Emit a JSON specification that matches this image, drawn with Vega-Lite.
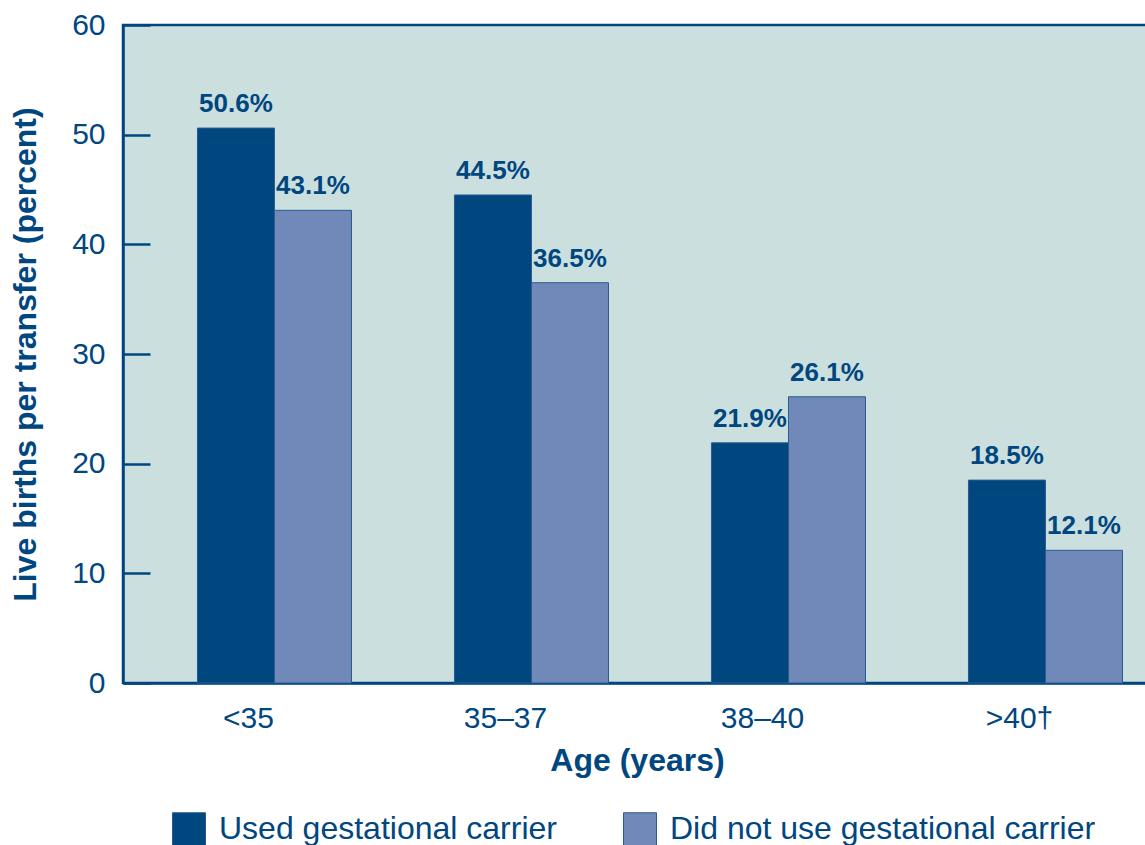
{
  "$schema": "https://vega.github.io/schema/vega-lite/v6.json",
  "width": 1028,
  "height": 658,
  "padding": {"left": 9, "top": 10, "right": 0, "bottom": 0},
  "background": "white",
  "config": {
    "font": "Liberation Sans",
    "view": {"fill": "#cbdfdf", "stroke": "#00467f", "strokeWidth": 2.5}
  },
  "data": {
    "values": [
      {"age": "<35", "group": "Used gestational carrier", "pct": 50.6, "label": "50.6%"},
      {"age": "<35", "group": "Did not use gestational carrier", "pct": 43.1, "label": "43.1%"},
      {"age": "35–37", "group": "Used gestational carrier", "pct": 44.5, "label": "44.5%"},
      {"age": "35–37", "group": "Did not use gestational carrier", "pct": 36.5, "label": "36.5%"},
      {"age": "38–40", "group": "Used gestational carrier", "pct": 21.9, "label": "21.9%"},
      {"age": "38–40", "group": "Did not use gestational carrier", "pct": 26.1, "label": "26.1%"},
      {"age": ">40†", "group": "Used gestational carrier", "pct": 18.5, "label": "18.5%"},
      {"age": ">40†", "group": "Did not use gestational carrier", "pct": 12.1, "label": "12.1%"}
    ]
  },
  "encoding": {
    "x": {
      "field": "age",
      "type": "nominal",
      "sort": ["<35", "35–37", "38–40", ">40†"],
      "scale": {"paddingInner": 0, "paddingOuter": 0},
      "axis": {
        "title": "Age (years)",
        "labelAngle": 0,
        "labelFontSize": 30,
        "labelColor": "#00467f",
        "labelPadding": 20,
        "labelOffset": -3,
        "ticks": false,
        "domainColor": "#00467f",
        "domainWidth": 2.5,
        "titleFontSize": 32,
        "titleFontWeight": "bold",
        "titleColor": "#00467f",
        "titlePadding": 12
      }
    },
    "xOffset": {
      "field": "group",
      "type": "nominal",
      "sort": ["Used gestational carrier", "Did not use gestational carrier"],
      "scale": {"paddingInner": 0, "paddingOuter": 0.6688, "align": 0.723}
    },
    "y": {
      "field": "pct",
      "type": "quantitative",
      "scale": {"domain": [0, 60], "nice": false},
      "axis": {
        "title": "Live births per transfer (percent)",
        "values": [0, 10, 20, 30, 40, 50, 60],
        "grid": false,
        "labelFontSize": 30,
        "labelColor": "#00467f",
        "labelPadding": 45,
        "tickSize": -27,
        "tickWidth": 2.5,
        "tickColor": "#00467f",
        "domainColor": "#00467f",
        "domainWidth": 2.5,
        "titleFontSize": 32,
        "titleFontWeight": "bold",
        "titleColor": "#00467f",
        "titlePadding": 29
      }
    }
  },
  "layer": [
    {
      "mark": {"type": "bar", "stroke": "#2a5a92", "strokeWidth": 1},
      "encoding": {
        "color": {
          "field": "group",
          "type": "nominal",
          "sort": ["Used gestational carrier", "Did not use gestational carrier"],
          "scale": {
            "domain": ["Used gestational carrier", "Did not use gestational carrier"],
            "range": ["#00467f", "#7189b8"]
          },
          "legend": {
            "title": null,
            "orient": "none",
            "legendX": 49,
            "legendY": 787,
            "direction": "horizontal",
            "symbolType": "square",
            "symbolSize": 1089,
            "symbolStrokeColor": "#2a5a92",
            "symbolStrokeWidth": 1,
            "labelFontSize": 32,
            "labelColor": "#00467f",
            "labelOffset": 13,
            "columnPadding": 64,
            "labelLimit": 600
          }
        }
      }
    },
    {
      "mark": {"type": "text", "baseline": "bottom", "dy": -11, "fontSize": 26, "fontWeight": "bold", "color": "#00467f"},
      "encoding": {"text": {"field": "label"}}
    }
  ]
}
